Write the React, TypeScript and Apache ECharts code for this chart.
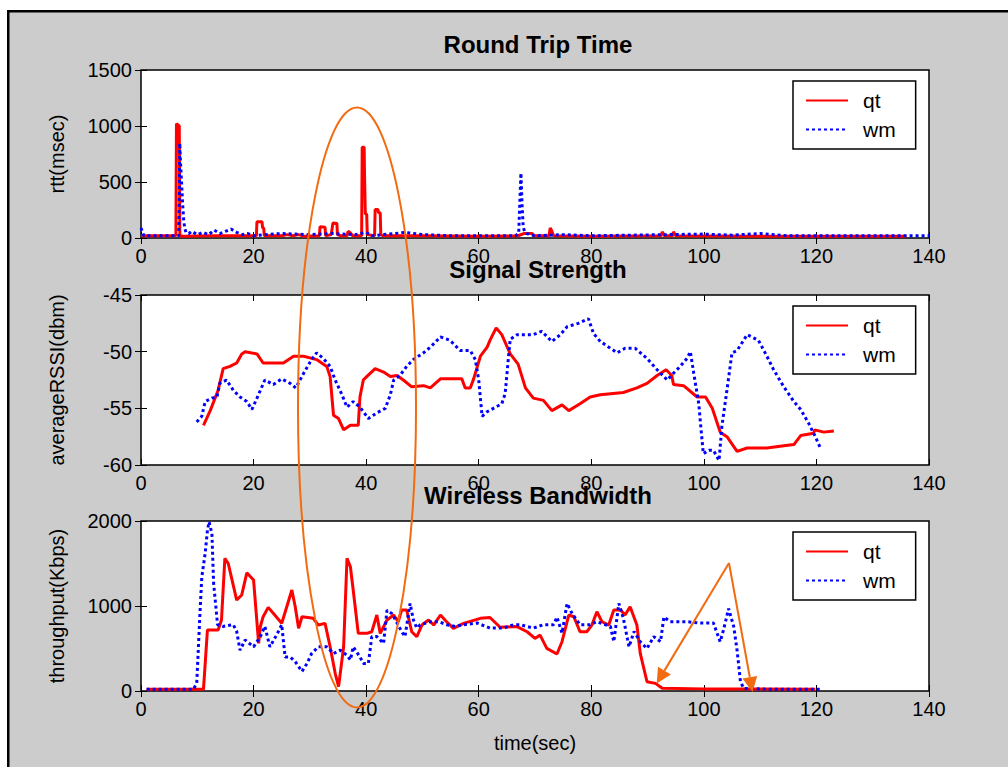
import React, { useEffect, useRef } from "react";
import * as echarts from "echarts";

// ---- tick settings ----
const timeTicks = { min: 0, max: 140, interval: 20 };
const rttTicks = { min: 0, max: 1500, interval: 500 };
const rssiTicks = { min: -60, max: -45, interval: 5 };
const bwTicks = { min: 0, max: 2000, interval: 1000 };

const panelTitles = ["Round Trip Time", "Signal Strength", "Wireless Bandwidth"];
const yNames = ["rtt(msec)", "averageRSSI(dbm)", "throughput(Kbps)"];
const xName = "time(sec)";
const seriesNames = ["qt", "wm"];

// ---- round trip time (msec) ----
const rttQt: [number, number][] = [
  [0, 20], [6.2, 20], [6.3, 1020], [6.8, 1000], [6.9, 20], [7.5, 15], [12, 20],
  [20.5, 20], [20.6, 145], [21.5, 145], [21.6, 90], [21.8, 90], [21.9, 20], [25, 20],
  [26, 30], [27, 20], [28, 30], [29, 15], [31.7, 20], [31.8, 100], [32.7, 95], [32.8, 20],
  [33.8, 30], [34.1, 135], [34.8, 130], [34.9, 30], [35.5, 20], [36.6, 20], [36.8, 60],
  [37.2, 45], [37.6, 20], [39.2, 20], [39.3, 810], [39.65, 810], [39.7, 600], [39.8, 600],
  [39.85, 215], [40.1, 215], [40.2, 30], [41.5, 20], [41.6, 255], [42.1, 255], [42.2, 225],
  [42.5, 225], [42.6, 30], [43, 20], [50, 20], [60, 15], [67, 20], [68, 40], [69.5, 40],
  [69.8, 20], [72.5, 20], [72.7, 90], [73, 60], [73.3, 20], [80, 15], [92.4, 20],
  [92.6, 55], [93, 20], [94.4, 20], [94.6, 55], [95, 20], [110, 15], [125, 15], [136, 15],
];
const rttWm: [number, number][] = [
  [0, 90], [0.5, 20], [6.7, 20], [6.9, 846], [7.0, 700], [7.2, 500], [7.4, 300],
  [7.6, 150], [7.8, 80], [8, 50], [8.5, 40], [9, 60], [10, 30], [11, 50], [12, 30],
  [13, 70], [14, 40], [15, 60], [16, 80], [17, 50], [18, 30], [19, 40], [20, 20],
  [22, 30], [25, 40], [30, 30], [34, 40], [38, 30], [40, 50], [41, 20], [45, 40],
  [47, 50], [50, 30], [55, 20], [66.5, 20], [67.1, 40], [67.5, 580], [67.7, 300],
  [67.9, 100], [68.2, 50], [69, 30], [70, 20], [75, 30], [80, 20], [100, 35], [105, 25],
  [110, 40], [115, 20], [140, 20],
];

// ---- signal strength (dbm) ----
const rssiQt: [number, number][] = [
  [11.1, -56.5], [12.3, -55.2], [13.7, -53.4], [14.6, -51.5], [15.8, -51.3], [17.0, -51.0],
  [17.9, -50.2], [18.5, -50.0], [20.6, -50.2], [21.7, -51.0], [25.3, -51.0], [27.1, -50.4],
  [28.9, -50.4], [31.2, -50.7], [33.0, -51.3], [33.6, -52.2], [34.2, -55.6], [35.1, -55.9],
  [36.0, -56.9], [37.2, -56.5], [38.6, -56.5], [38.9, -54.0], [39.5, -52.5], [40.1, -52.2],
  [41.6, -51.5], [43.1, -51.8], [44.3, -52.2], [45.5, -52.1], [46.6, -52.5], [48.1, -53.1],
  [50.2, -53.0], [51.4, -53.2], [53.2, -52.4], [57.0, -52.4], [57.6, -53.2], [58.5, -53.2],
  [59.1, -52.4], [60.3, -50.4], [61.5, -49.6], [62.0, -49.0], [63.1, -47.9], [64.1, -48.5],
  [65.6, -50.2], [67.0, -51.1], [68.3, -53.2], [69.7, -54.1], [71.5, -54.3], [73.0, -55.2],
  [74.8, -54.7], [76.0, -55.2], [78.0, -54.6], [79.8, -54.0], [81.6, -53.8], [85.7, -53.6],
  [88.1, -53.2], [89.9, -52.8], [91.7, -52.1], [93.3, -51.6], [94.3, -52.1], [94.6, -52.9],
  [96.4, -53.0], [98.8, -54.0], [100.3, -54.0], [101.5, -55.0], [102.9, -57.1], [104.1, -57.5],
  [105.9, -58.8], [107.7, -58.5], [111.2, -58.5], [114.2, -58.3], [116.0, -58.2], [117.2, -57.4],
  [119.5, -57.2], [119.7, -56.9], [121.3, -57.1], [123.1, -57.0],
];
const rssiWm: [number, number][] = [
  [9.9, -56.2], [10.8, -55.7], [11.4, -54.4], [12.6, -54.1], [13.5, -54.0], [14.0, -52.8],
  [15.2, -52.5], [16.4, -53.4], [17.6, -54.0], [18.8, -54.4], [19.7, -55.1], [20.6, -54.1],
  [22.0, -52.5], [23.5, -52.9], [25.0, -52.4], [26.5, -52.8], [27.5, -53.2], [28.9, -51.9],
  [30.3, -50.7], [31.2, -50.1], [32.4, -50.6], [33.6, -51.3], [34.5, -52.5], [35.7, -53.8],
  [36.6, -54.9], [37.7, -54.4], [38.9, -54.9], [39.5, -55.3], [40.4, -55.9], [41.9, -55.4],
  [43.4, -55.0], [44.3, -53.8], [44.9, -52.5], [46.0, -52.1], [47.2, -51.3], [48.4, -50.7],
  [50.2, -50.1], [51.4, -49.6], [53.2, -48.7], [54.9, -49.0], [56.7, -49.9], [58.5, -49.9],
  [59.4, -50.7], [60.0, -52.5], [60.6, -55.7], [61.5, -55.3], [62.6, -55.0], [64.1, -54.6],
  [64.7, -53.7], [65.3, -50.4], [65.6, -48.9], [66.8, -48.5], [68.0, -48.5], [69.7, -48.5],
  [71.2, -48.2], [73.0, -49.1], [74.5, -48.5], [75.7, -47.8], [77.7, -47.5], [79.5, -47.1],
  [80.4, -48.4], [81.6, -49.1], [84.6, -50.1], [86.0, -49.7], [87.8, -49.7], [89.9, -50.6],
  [91.7, -51.6], [93.5, -52.5], [94.6, -51.9], [95.8, -51.3], [97.0, -50.6], [97.6, -50.0],
  [98.2, -51.9], [99.1, -54.6], [99.4, -56.3], [99.9, -59.0], [100.9, -58.7], [101.7, -58.7],
  [102.7, -59.6], [103.2, -56.6], [104.1, -53.4], [105.0, -50.1], [105.9, -49.9], [107.7, -48.5],
  [109.7, -49.0], [111.2, -50.4], [112.4, -51.6], [114.2, -53.1], [116.0, -54.4], [117.2, -55.1],
  [118.6, -56.3], [119.8, -57.5], [120.7, -58.5],
];

// ---- wireless bandwidth (Kbps) ----
const bwQt: [number, number][] = [
  [1, 20], [11.1, 20], [11.8, 717], [13.7, 717], [14.3, 835], [14.9, 1560], [15.5, 1500],
  [17.0, 1070], [17.9, 1130], [18.8, 1390], [20.0, 1305], [20.9, 560], [21.2, 756],
  [21.7, 874], [22.6, 984], [23.5, 914], [25.0, 796], [25.9, 991], [26.8, 1188], [27.4, 991],
  [28.0, 737], [28.6, 874], [30.6, 855], [31.5, 776], [32.7, 796], [33.6, 521], [34.5, 208],
  [35.1, 51], [36.0, 521], [36.6, 1560], [37.2, 1462], [37.7, 1188], [38.6, 678], [40.1, 678],
  [41.0, 697], [41.9, 894], [42.5, 678], [43.7, 835], [44.9, 894], [45.7, 815], [46.3, 953],
  [47.2, 953], [48.1, 697], [49.0, 638], [49.9, 776], [51.1, 835], [52.0, 776], [53.2, 894],
  [54.3, 815], [55.5, 737], [57.3, 796], [60.3, 855], [62.0, 865], [63.8, 750], [66.8, 758],
  [68.6, 697], [70.0, 619], [70.9, 658], [72.1, 502], [73.9, 435], [74.8, 580], [76.0, 894],
  [76.9, 874], [78.0, 697], [79.2, 697], [80.1, 776], [81.0, 933], [81.9, 815], [83.1, 776],
  [84.0, 953], [85.2, 953], [86.0, 894], [86.9, 991], [88.1, 776], [88.7, 443], [89.9, 109],
  [91.4, 90], [92.6, 32], [100, 25], [110, 25], [119.8, 20],
];
const bwWm: [number, number][] = [
  [1, 20], [9.3, 20], [9.9, 90], [10.5, 950], [10.8, 1340], [11.4, 1620], [11.8, 1890],
  [12.1, 1990], [12.6, 1850], [12.9, 1270], [13.6, 780], [14.6, 760], [16.4, 780], [17.0, 700],
  [17.6, 480], [18.5, 600], [20.0, 520], [21.2, 640], [22.0, 760], [22.9, 520], [24.1, 660],
  [25.0, 780], [25.6, 400], [26.5, 400], [27.4, 345], [28.6, 230], [29.5, 325], [30.3, 440],
  [31.5, 520], [33.0, 520], [34.2, 440], [35.4, 480], [36.6, 420], [37.2, 365], [37.7, 520],
  [38.9, 400], [39.5, 325], [40.4, 325], [41.0, 640], [41.9, 640], [43.1, 560], [43.7, 950],
  [44.6, 910], [45.5, 800], [46.3, 700], [46.9, 640], [47.8, 1030], [48.4, 835], [49.0, 740],
  [49.6, 780], [51.4, 815], [52.9, 815], [54.3, 780], [55.8, 760], [57.3, 780], [59.7, 800],
  [62.0, 740], [64.4, 740], [66.2, 780], [67.4, 780], [69.7, 740], [71.5, 780], [73.3, 780],
  [73.9, 870], [74.8, 680], [75.7, 1030], [76.6, 910], [78.0, 780], [79.8, 780], [81.0, 815],
  [83.4, 760], [84.0, 580], [84.9, 1030], [85.7, 855], [86.7, 520], [87.6, 700], [88.7, 580],
  [89.9, 500], [91.1, 640], [92.3, 580], [92.9, 870], [94.0, 815], [97.0, 815], [99.4, 800],
  [101.7, 800], [102.9, 580], [103.5, 720], [104.4, 970], [105.3, 760], [105.9, 480],
  [106.5, 110], [107.1, 30], [112, 20], [120.7, 20],
];

const FONT = "'Liberation Sans', Arial, Helvetica, sans-serif";
const ORANGE = "#f26b10";
const RED = "#ff0000";
const BLUE = "#0000ff";

const grids = [
  { left: 141, top: 70, width: 788, height: 168 },
  { left: 141, top: 295, width: 788, height: 170 },
  { left: 141, top: 521, width: 788, height: 170 },
];
const yTicks = [rttTicks, rssiTicks, bwTicks];
const panelData: [number, number][][][] = [
  [rttQt, rttWm],
  [rssiQt, rssiWm],
  [bwQt, bwWm],
];

function buildOption() {
  const tick = { show: true, inside: true, length: 6, lineStyle: { color: "#000", width: 1 } };
  const label = { color: "#000", fontFamily: FONT, fontSize: 20 };
  const plain = (v: number) => String(v);
  const xAxis: any[] = [];
  const yAxis: any[] = [];
  const series: any[] = [];
  const legend: any[] = [];
  const title: any[] = [];

  grids.forEach((g, i) => {
    // bottom x axis with labels
    xAxis.push({
      type: "value", gridIndex: i, position: "bottom", ...timeTicks,
      axisLine: { show: false }, axisTick: tick, splitLine: { show: false },
      axisLabel: { ...label, margin: 8, formatter: plain },
      name: i === 2 ? xName : "", nameLocation: "middle", nameGap: 42,
      nameTextStyle: { ...label },
    });
    // top x axis: ticks only
    xAxis.push({
      type: "value", gridIndex: i, position: "top", ...timeTicks,
      axisLine: { show: false }, axisTick: tick, splitLine: { show: false },
      axisLabel: { show: false },
    });
    yAxis.push({
      type: "value", gridIndex: i, position: "left", ...yTicks[i],
      axisLine: { show: false }, axisTick: tick, splitLine: { show: false },
      axisLabel: { ...label, margin: 9, formatter: plain },
      name: yNames[i], nameLocation: "middle", nameGap: 74,
      nameTextStyle: { ...label },
    });
    yAxis.push({
      type: "value", gridIndex: i, position: "right", ...yTicks[i],
      axisLine: { show: false }, axisTick: tick, splitLine: { show: false },
      axisLabel: { show: false },
    });

    const [qt, wm] = panelData[i];
    series.push({
      name: seriesNames[0], type: "line", xAxisIndex: i * 2, yAxisIndex: i * 2,
      data: qt, symbol: "none", clip: true,
      lineStyle: { color: RED, width: 3, type: "solid" }, itemStyle: { color: RED },
    });
    series.push({
      name: seriesNames[1], type: "line", xAxisIndex: i * 2, yAxisIndex: i * 2,
      data: wm, symbol: "none", clip: true,
      lineStyle: { color: BLUE, width: 3, type: [3, 3] }, itemStyle: { color: BLUE },
    });

    legend.push({
      data: seriesNames, orient: "vertical", left: 793, top: g.top + 11,
      itemWidth: 42, itemHeight: 14, itemGap: 8, padding: [9, 20, 9, 12],
      backgroundColor: "#fff", borderColor: "#000", borderWidth: 1.5, borderRadius: 0,
      selectedMode: false,
      itemStyle: { opacity: 0, borderWidth: 0 },
      textStyle: { color: "#000", fontFamily: FONT, fontSize: 21, padding: [0, 0, 0, 10] },
    });

    title.push({
      text: panelTitles[i], left: 533, textAlign: "center", top: g.top - 43,
      textStyle: { color: "#000", fontFamily: FONT, fontSize: 24, fontWeight: "bold" },
    });
  });

  // arrowhead triangles for the two callout arrows
  const arrowHead = (tx: number, ty: number, fx: number, fy: number) => {
    const dx = tx - fx, dy = ty - fy;
    const len = Math.hypot(dx, dy);
    const ux = dx / len, uy = dy / len;
    const bx = tx - ux * 15, by = ty - uy * 15;
    const px = -uy * 7.5, py = ux * 7.5;
    return {
      line: { x1: fx, y1: fy, x2: bx, y2: by },
      tri: [[tx, ty], [bx + px, by + py], [bx - px, by - py]],
    };
  };
  const a1 = arrowHead(656.7, 683.5, 729, 563);
  const a2 = arrowHead(752.5, 692, 729, 563);

  const graphic: any[] = [
    { type: "rect", shape: { x: 0, y: 0, width: 1008, height: 10 }, style: { fill: "#fff" }, silent: true },
    { type: "rect", shape: { x: 0, y: 0, width: 7, height: 767 }, style: { fill: "#fff" }, silent: true },
    { type: "rect", shape: { x: 7, y: 10, width: 1001, height: 2.5 }, style: { fill: "#000" }, silent: true },
    { type: "rect", shape: { x: 7, y: 10, width: 2.5, height: 757 }, style: { fill: "#000" }, silent: true },
    {
      type: "ellipse", shape: { cx: 357, cy: 407.5, rx: 59, ry: 300 }, z: 100,
      style: { fill: "none", stroke: ORANGE, lineWidth: 2 }, silent: true,
    },
    { type: "line", shape: a1.line, z: 100, style: { stroke: ORANGE, lineWidth: 2 }, silent: true },
    { type: "line", shape: a2.line, z: 100, style: { stroke: ORANGE, lineWidth: 2 }, silent: true },
    { type: "polygon", shape: { points: a1.tri }, z: 100, style: { fill: ORANGE }, silent: true },
    { type: "polygon", shape: { points: a2.tri }, z: 100, style: { fill: ORANGE }, silent: true },
  ];

  return {
    animation: false,
    backgroundColor: "#cccccc",
    textStyle: { fontFamily: FONT },
    grid: grids.map((g) => ({
      ...g, show: true, backgroundColor: "#fff", borderColor: "#000", borderWidth: 1.5,
      containLabel: false,
    })),
    title,
    legend,
    xAxis,
    yAxis,
    series,
    graphic,
  };
}

export default function App() {
  const ref = useRef<HTMLDivElement>(null);
  useEffect(() => {
    if (!ref.current) return;
    const chart = echarts.init(ref.current, undefined, { renderer: "svg" });
    chart.setOption(buildOption() as any);
    return () => chart.dispose();
  }, []);
  return (
    <div
      ref={ref}
      style={{ position: "absolute", left: 0, top: 0, width: 1008, height: 767 }}
    />
  );
}
